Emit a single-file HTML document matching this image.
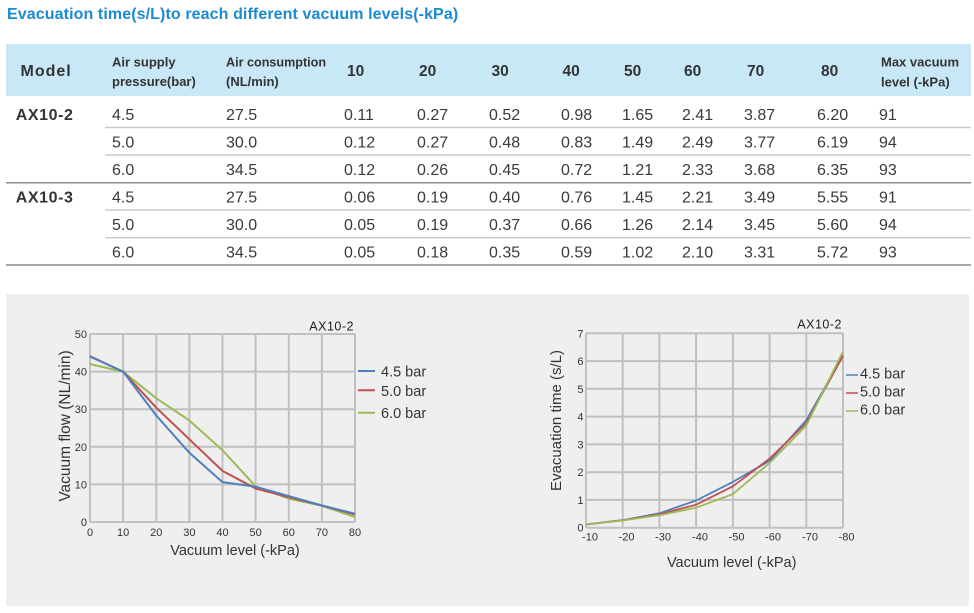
<!DOCTYPE html>
<html>
<head>
<meta charset="utf-8">
<style>
html,body{margin:0;padding:0;background:#fff;}
svg{display:block;}
text{font-family:"Liberation Sans",Arial,sans-serif;}
</style>
</head>
<body>
<svg width="974" height="613" viewBox="0 0 974 613" xmlns="http://www.w3.org/2000/svg">
<rect width="974" height="613" fill="#ffffff"/>
<!-- Title -->
<text x="7" y="19" font-size="16" font-weight="bold" fill="#1a8ad4" letter-spacing="0.1">Evacuation time(s/L)to reach different vacuum levels(-kPa)</text>

<!-- Table header -->
<rect x="6" y="44" width="965" height="52" fill="#c8e8f8"/>
<g fill="#333" font-weight="bold">
<text x="20.5" y="76" font-size="16" letter-spacing="1">Model</text>
<text x="112" y="66.5" font-size="13">Air supply</text>
<text x="112" y="86" font-size="13">pressure(bar)</text>
<text x="226" y="66.5" font-size="12.6">Air consumption</text>
<text x="226" y="86" font-size="13">(NL/min)</text>
<g font-size="15.5">
<text x="347" y="76">10</text>
<text x="419" y="76">20</text>
<text x="491.5" y="76">30</text>
<text x="562.5" y="76">40</text>
<text x="624" y="76">50</text>
<text x="684" y="76">60</text>
<text x="747" y="76">70</text>
<text x="821" y="76">80</text>
</g>
<text x="881" y="66.5" font-size="13">Max vacuum</text>
<text x="881" y="86.5" font-size="13">level (-kPa)</text>
</g>

<!-- Table lines -->
<g stroke-width="1.5">
<line x1="105" y1="127.5" x2="971" y2="127.5" stroke="#cccccc"/>
<line x1="105" y1="155" x2="971" y2="155" stroke="#cccccc"/>
<line x1="6" y1="182.7" x2="971" y2="182.7" stroke="#8c8c8c"/>
<line x1="105" y1="210" x2="971" y2="210" stroke="#cccccc"/>
<line x1="105" y1="237.7" x2="971" y2="237.7" stroke="#cccccc"/>
<line x1="6" y1="265" x2="971" y2="265" stroke="#8c8c8c"/>
</g>

<!-- Table body -->
<g fill="#333" font-weight="bold" font-size="16" letter-spacing="0.6">
<text x="15.7" y="120">AX10-2</text>
<text x="15.7" y="202.5">AX10-3</text>
</g>
<g fill="#3a3a3a" font-size="16">
<text y="120"><tspan x="112">4.5</tspan><tspan x="226">27.5</tspan><tspan x="344">0.11</tspan><tspan x="417">0.27</tspan><tspan x="489">0.52</tspan><tspan x="561">0.98</tspan><tspan x="622">1.65</tspan><tspan x="682">2.41</tspan><tspan x="744">3.87</tspan><tspan x="817">6.20</tspan><tspan x="879">91</tspan></text>
<text y="147.5"><tspan x="112">5.0</tspan><tspan x="226">30.0</tspan><tspan x="344">0.12</tspan><tspan x="417">0.27</tspan><tspan x="489">0.48</tspan><tspan x="561">0.83</tspan><tspan x="622">1.49</tspan><tspan x="682">2.49</tspan><tspan x="744">3.77</tspan><tspan x="817">6.19</tspan><tspan x="879">94</tspan></text>
<text y="175"><tspan x="112">6.0</tspan><tspan x="226">34.5</tspan><tspan x="344">0.12</tspan><tspan x="417">0.26</tspan><tspan x="489">0.45</tspan><tspan x="561">0.72</tspan><tspan x="622">1.21</tspan><tspan x="682">2.33</tspan><tspan x="744">3.68</tspan><tspan x="817">6.35</tspan><tspan x="879">93</tspan></text>
<text y="202.5"><tspan x="112">4.5</tspan><tspan x="226">27.5</tspan><tspan x="344">0.06</tspan><tspan x="417">0.19</tspan><tspan x="489">0.40</tspan><tspan x="561">0.76</tspan><tspan x="622">1.45</tspan><tspan x="682">2.21</tspan><tspan x="744">3.49</tspan><tspan x="817">5.55</tspan><tspan x="879">91</tspan></text>
<text y="230"><tspan x="112">5.0</tspan><tspan x="226">30.0</tspan><tspan x="344">0.05</tspan><tspan x="417">0.19</tspan><tspan x="489">0.37</tspan><tspan x="561">0.66</tspan><tspan x="622">1.26</tspan><tspan x="682">2.14</tspan><tspan x="744">3.45</tspan><tspan x="817">5.60</tspan><tspan x="879">94</tspan></text>
<text y="257.5"><tspan x="112">6.0</tspan><tspan x="226">34.5</tspan><tspan x="344">0.05</tspan><tspan x="417">0.18</tspan><tspan x="489">0.35</tspan><tspan x="561">0.59</tspan><tspan x="622">1.02</tspan><tspan x="682">2.10</tspan><tspan x="744">3.31</tspan><tspan x="817">5.72</tspan><tspan x="879">93</tspan></text>
</g>

<!-- Chart panel -->
<rect x="6" y="294" width="963" height="312" fill="#efefef"/>

<!-- LEFT CHART -->
<g stroke="#c0c0c0" stroke-width="2" fill="none">
<line x1="90" y1="334" x2="355" y2="334"/>
<line x1="90" y1="371.6" x2="355" y2="371.6"/>
<line x1="90" y1="409.2" x2="355" y2="409.2"/>
<line x1="90" y1="446.8" x2="355" y2="446.8"/>
<line x1="90" y1="484.4" x2="355" y2="484.4"/>
<line x1="90" y1="522" x2="355" y2="522"/>
<line x1="90" y1="334" x2="90" y2="522"/>
<line x1="123.1" y1="334" x2="123.1" y2="522"/>
<line x1="156.3" y1="334" x2="156.3" y2="522"/>
<line x1="189.4" y1="334" x2="189.4" y2="522"/>
<line x1="222.5" y1="334" x2="222.5" y2="522"/>
<line x1="255.6" y1="334" x2="255.6" y2="522"/>
<line x1="288.8" y1="334" x2="288.8" y2="522"/>
<line x1="321.9" y1="334" x2="321.9" y2="522"/>
<line x1="355" y1="334" x2="355" y2="522"/>
</g>
<g fill="none" stroke-width="2" stroke-linejoin="round">
<polyline stroke="#9bbb59" points="90,364.1 123.1,371.6 156.3,398.3 189.4,420.5 222.5,450.2 255.6,486.3 288.8,498.7 321.9,505.8 355,517.1"/>
<polyline stroke="#c0504d" points="90,356.2 123.1,371.6 156.3,407.7 189.4,439.3 222.5,470.9 255.6,488.5 288.8,497.2 321.9,505.5 355,514.5"/>
<polyline stroke="#4f81bd" points="90,356.6 123.1,371.6 156.3,415.6 189.4,452.8 222.5,482.1 255.6,486.7 288.8,496.1 321.9,505.5 355,513.7"/>
</g>
<g fill="#333" font-size="11" text-anchor="end">
<text x="87" y="338">50</text>
<text x="87" y="375.6">40</text>
<text x="87" y="413.2">30</text>
<text x="87" y="450.8">20</text>
<text x="87" y="488.4">10</text>
<text x="87" y="526">0</text>
</g>
<g fill="#333" font-size="11" text-anchor="middle">
<text x="90" y="536">0</text>
<text x="123.1" y="536">10</text>
<text x="156.3" y="536">20</text>
<text x="189.4" y="536">30</text>
<text x="222.5" y="536">40</text>
<text x="255.6" y="536">50</text>
<text x="288.8" y="536">60</text>
<text x="321.9" y="536">70</text>
<text x="355" y="536">80</text>
</g>
<text x="235" y="555" font-size="14.5" fill="#333" text-anchor="middle">Vacuum level (-kPa)</text>
<text transform="translate(70,426) rotate(-90)" font-size="15.5" fill="#333" text-anchor="middle">Vacuum flow (NL/min)</text>
<text x="354" y="330.5" font-size="12.5" fill="#222" text-anchor="end" letter-spacing="0.5">AX10-2</text>
<g stroke-width="2">
<line x1="358" y1="371" x2="375" y2="371" stroke="#4f81bd"/>
<line x1="358" y1="390.3" x2="375" y2="390.3" stroke="#c0504d"/>
<line x1="358" y1="412.7" x2="375" y2="412.7" stroke="#9bbb59"/>
</g>
<g fill="#333" font-size="14.5">
<text x="381" y="376.5">4.5 bar</text>
<text x="381" y="395.8">5.0 bar</text>
<text x="381" y="418.2">6.0 bar</text>
</g>

<!-- RIGHT CHART -->
<g stroke="#c0c0c0" stroke-width="2" fill="none">
<line x1="586" y1="333.3" x2="843" y2="333.3"/>
<line x1="586" y1="361.1" x2="843" y2="361.1"/>
<line x1="586" y1="388.8" x2="843" y2="388.8"/>
<line x1="586" y1="416.6" x2="843" y2="416.6"/>
<line x1="586" y1="444.4" x2="843" y2="444.4"/>
<line x1="586" y1="472.2" x2="843" y2="472.2"/>
<line x1="586" y1="499.9" x2="843" y2="499.9"/>
<line x1="586" y1="527.7" x2="843" y2="527.7"/>
<line x1="586" y1="333.3" x2="586" y2="527.7"/>
<line x1="622.7" y1="333.3" x2="622.7" y2="527.7"/>
<line x1="659.4" y1="333.3" x2="659.4" y2="527.7"/>
<line x1="696.1" y1="333.3" x2="696.1" y2="527.7"/>
<line x1="732.9" y1="333.3" x2="732.9" y2="527.7"/>
<line x1="769.6" y1="333.3" x2="769.6" y2="527.7"/>
<line x1="806.3" y1="333.3" x2="806.3" y2="527.7"/>
<line x1="843" y1="333.3" x2="843" y2="527.7"/>
</g>
<g fill="none" stroke-width="1.8" stroke-linejoin="round">
<polyline stroke="#4f81bd" points="586,524.6 622.7,520.2 659.4,513.3 696.1,500.5 732.9,481.9 769.6,460.8 806.3,420.2 843,355.5"/>
<polyline stroke="#c0504d" points="586,524.4 622.7,520.2 659.4,514.4 696.1,504.7 732.9,486.3 769.6,458.6 806.3,423.0 843,355.8"/>
<polyline stroke="#9bbb59" points="586,524.4 622.7,520.5 659.4,515.2 696.1,507.7 732.9,494.1 769.6,463.0 806.3,425.5 843,351.4"/>
</g>
<g fill="#333" font-size="11" text-anchor="end">
<text x="583.5" y="337.3">7</text>
<text x="583.5" y="365.1">6</text>
<text x="583.5" y="392.8">5</text>
<text x="583.5" y="420.6">4</text>
<text x="583.5" y="448.4">3</text>
<text x="583.5" y="476.2">2</text>
<text x="583.5" y="503.9">1</text>
<text x="583.5" y="531.7">0</text>
</g>
<g fill="#333" font-size="11" text-anchor="middle">
<text x="590" y="540.7">-10</text>
<text x="626.5" y="540.7">-20</text>
<text x="663" y="540.7">-30</text>
<text x="700" y="540.7">-40</text>
<text x="736.5" y="540.7">-50</text>
<text x="773" y="540.7">-60</text>
<text x="810" y="540.7">-70</text>
<text x="846.5" y="540.7">-80</text>
</g>
<text x="731.7" y="567" font-size="14.5" fill="#333" text-anchor="middle">Vacuum level (-kPa)</text>
<text transform="translate(561,420.5) rotate(-90)" font-size="15" fill="#333" text-anchor="middle">Evacuation time (s/L)</text>
<text x="842" y="328.5" font-size="12.5" fill="#222" text-anchor="end" letter-spacing="0.5">AX10-2</text>
<g stroke-width="1.5">
<line x1="846" y1="375" x2="858" y2="375" stroke="#4f81bd"/>
<line x1="846" y1="393" x2="858" y2="393" stroke="#c0504d"/>
<line x1="846" y1="411" x2="858" y2="411" stroke="#9bbb59"/>
</g>
<g fill="#333" font-size="14.5">
<text x="860" y="378.3">4.5 bar</text>
<text x="860" y="396.3">5.0 bar</text>
<text x="860" y="414.3">6.0 bar</text>
</g>
</svg>
</body>
</html>
